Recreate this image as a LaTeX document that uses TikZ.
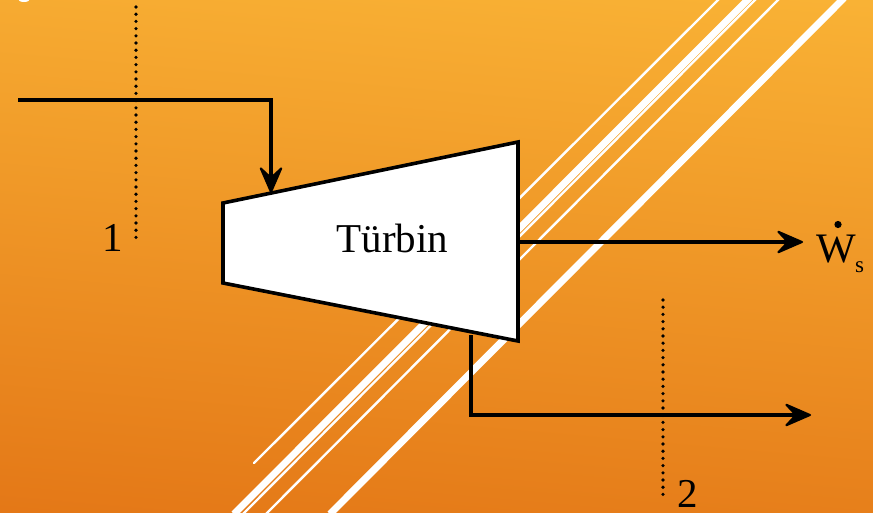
\documentclass[tikz,border=0pt]{standalone}
\usepackage{fontspec}
\setmainfont{Liberation Serif}
\usetikzlibrary{arrows.meta}
\definecolor{bgtop}{HTML}{F9B235}
\definecolor{bgbot}{HTML}{E47817}
\tikzset{
  flow/.style={line width=3.4pt,draw=black,line join=miter,-{Stealth[length=30pt,width=26pt,inset=12pt,line width=2pt,round]}},
  thinw/.style={draw=white,line width=2.4pt},
  thickw/.style={draw=white,line width=7pt},
  section/.style={draw=black,line width=3.6pt,line cap=round,dash pattern=on 0pt off 7.2pt},
  lab/.style={font=\fontsize{41}{45}\selectfont,text=black,inner sep=0pt},
}
\begin{document}
\begin{tikzpicture}[x=1pt,y=-1pt]
\useasboundingbox (0,0) rectangle (873,512);
\shade[top color=bgtop,bottom color=bgbot,shading angle=-5] (-20,-20) rectangle (893,532);
\fill[white] (24,-1) ellipse [x radius=6pt,y radius=3pt];
% diagonal stripes
\coordinate (a1) at (720,-2); \coordinate (a2) at (254,463);
\coordinate (b1) at (749.5,-2); \coordinate (b2) at (234,514);
\coordinate (c1) at (757,-2); \coordinate (c2) at (243,514);
\coordinate (d1) at (780,-2); \coordinate (d2) at (266,514);
\coordinate (e1) at (844,-2); \coordinate (e2) at (330,514);
\draw[thinw,line cap=round] (a1) -- (a2);
\draw[thickw] (b1) -- (b2);
\draw[thinw] (c1) -- (c2);
\draw[thinw] (d1) -- (d2);
\draw[thickw] (e1) -- (e2);
% sections
\coordinate (s1a) at (136,7); \coordinate (s1b) at (136,240);
\coordinate (s2a) at (663,300); \coordinate (s2b) at (663,497);
\draw[section] (s1a) -- (s1b);
\draw[section] (s2a) -- (s2b);
% turbine
\coordinate (t1) at (223,203); \coordinate (t2) at (518,142);
\coordinate (t3) at (518,341); \coordinate (t4) at (223,283);
\draw[fill=white,line width=3.6pt,line join=miter] (t1) -- (t2) -- (t3) -- (t4) -- cycle;
\node[lab] (turbin) at (392.5,238) {Türbin};
% connectors
\coordinate (inS) at (18,100); \coordinate (inC) at (271,100); \coordinate (inE) at (271,193);
\draw[flow] (inS) -- (inC) -- (inE);
\coordinate (wS) at (518,242); \coordinate (wE) at (803,242);
\draw[flow] (wS) -- (wE);
\coordinate (oS) at (471,335); \coordinate (oC) at (471,415); \coordinate (oE) at (811,415);
\draw[flow] (oS) -- (oC) -- (oE);
% labels
\node[lab] (one) at (113,238) {1};
\node[lab] (two) at (688,494) {2};
\node[lab,anchor=base,font=\fontsize{42}{45}\selectfont] (w) at (836,262) {W};
\fill (838,224.5) circle (3.6pt);
\node[inner sep=0pt,anchor=base,font=\fontsize{23}{25}\selectfont] (s) at (859.5,272) {s};
\end{tikzpicture}
\end{document}
